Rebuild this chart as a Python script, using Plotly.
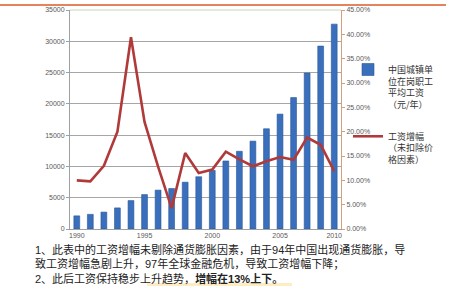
import plotly.graph_objects as go

# ---- data ----
years = ["1990", "1991", "1992", "1993", "1994", "1995", "1996", "1997", "1998", "1999",
         "2000", "2001", "2002", "2003", "2004", "2005", "2006", "2007", "2008", "2009"]
wage = [2100, 2340, 2700, 3370, 4540, 5500, 6210, 6470, 7480, 8350,
        9370, 10870, 12420, 14040, 16020, 18360, 21000, 24930, 29230, 32740]
growth = [0.100, 0.098, 0.130, 0.200, 0.394, 0.220, 0.128, 0.043, 0.156, 0.115,
          0.122, 0.159, 0.143, 0.129, 0.139, 0.148, 0.142, 0.188, 0.173, 0.119]
tick_pos = ["1990", "1995", "2000", "2005", "2009"]
tick_text = ["1990", "1995", "2000", "2005", "2010"]

name_wage = "中国城镇单<br>位在岗职工<br>平均工资<br>（元/年）"
name_growth = "工资增幅<br>（未扣除价<br>格因素）"

notes = ("1、此表中的工资增幅未剔除通货膨胀因素，由于94年中国出现通货膨胀，导<br>"
         "致工资增幅急剧上升，97年全球金融危机，导致工资增幅下降；<br>"
         "2、此后工资保持稳步上升趋势，<b>增幅在13%上下。</b>")

W, H = 452, 287
L, R, T, B = 70, 111, 6, 58
pw, ph = W - L - R, H - T - B


def px_x(x):
    return (x - L) / pw


def px_y(y):
    return (H - B - y) / ph


cjk = "Noto Sans CJK SC"
note_font = "Liberation Sans, Noto Sans CJK SC"
tickfont = dict(family="Liberation Sans", size=7, color="#595959")

fig = go.Figure()
fig.add_trace(go.Bar(
    x=years, y=wage, name=name_wage, width=0.43,
    marker=dict(color="#3a6fbd", line=dict(color="#2a5796", width=0.6)),
    legend="legend",
))
fig.add_trace(go.Scatter(
    x=years, y=growth, name=name_growth, yaxis="y2", mode="lines",
    line=dict(color="#b03a3a", width=2.6),
    legend="legend2",
))

fig.update_layout(
    width=W, height=H, autosize=False,
    margin=dict(l=L, r=R, t=T, b=B, pad=0),
    paper_bgcolor="white", plot_bgcolor="white",
    font=dict(family=cjk, color="#333333"),
    xaxis=dict(type="category", range=[-0.5, 19.5], tickmode="array",
               tickvals=tick_pos, ticktext=tick_text, tickfont=tickfont,
               showline=True, linecolor="#a0a0a0", linewidth=1, ticks="",
               showgrid=False, zeroline=False, tickangle=0),
    yaxis=dict(range=[0, 35000], dtick=5000, tickformat="d", tickfont=tickfont,
               showgrid=True, gridcolor="#a6a6a6", gridwidth=1,
               showline=True, linecolor="#a0a0a0", linewidth=1,
               ticks="outside", ticklen=3, tickcolor="#a0a0a0", zeroline=False),
    yaxis2=dict(range=[0, 0.45], dtick=0.05, tickformat=".2%", tickfont=tickfont,
                overlaying="y", side="right", showgrid=False,
                showline=True, linecolor="#d2a07c", linewidth=1,
                ticks="outside", ticklen=3, tickcolor="#d2a07c", zeroline=False),
    legend=dict(x=px_x(348), y=px_y(54), xanchor="left", yanchor="top",
                font=dict(family=cjk, size=9, color="#333333"),
                bgcolor="rgba(0,0,0,0)", valign="top", itemwidth=30),
    legend2=dict(x=px_x(348), y=px_y(122), xanchor="left", yanchor="top",
                 font=dict(family=cjk, size=9, color="#333333"),
                 bgcolor="rgba(0,0,0,0)", valign="top", itemwidth=30),
    showlegend=True,
)

# decorative slide lines
fig.add_shape(type="line", xref="paper", yref="paper",
              x0=px_x(0), x1=px_x(446), y0=px_y(1), y1=px_y(1),
              line=dict(color="#e3845c", width=2))
fig.add_shape(type="line", xref="paper", yref="paper",
              x0=0, x1=1, y0=1, y1=1, line=dict(color="#c4d8b8", width=1))
fig.add_shape(type="rect", xref="paper", yref="paper",
              x0=px_x(147), x1=px_x(292), y0=px_y(287), y1=px_y(284),
              fillcolor="rgba(255,214,120,0.45)", line=dict(width=0), layer="below")

fig.add_annotation(text=notes, xref="paper", yref="paper",
                   x=px_x(34), y=px_y(242), xanchor="left", yanchor="top",
                   showarrow=False, align="left", borderpad=0,
                   font=dict(family=note_font, size=11, color="#222222"))

fig.write_html("out.html")
